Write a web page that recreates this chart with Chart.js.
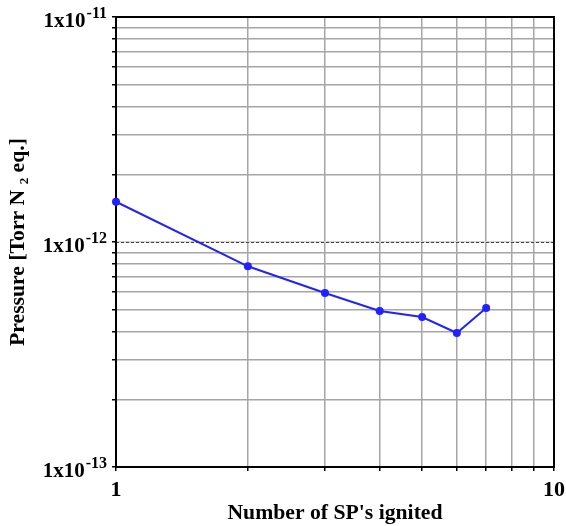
<!DOCTYPE html>
<html><head><meta charset="utf-8">
<script src="https://cdn.jsdelivr.net/npm/chart.js@4"></script>
<style>html,body{margin:0;padding:0;background:#fff}</style>
</head><body>
<canvas id="c" width="566" height="526" style="width:566px;height:526px;display:block"></canvas>
<script>
// ---- data ----
const spIgnited = [1, 2, 3, 4, 5, 6, 7];
const pressure = [1.51e-12, 7.8e-13, 5.93e-13, 4.94e-13, 4.64e-13, 3.94e-13, 5.09e-13];
const xTickValues = [1, 2, 3, 4, 5, 6, 7, 8, 9, 10];
const xTickLabels = ['1', '', '', '', '', '', '', '', '', '10'];
const yTickValues = [1e-13, 2e-13, 3e-13, 4e-13, 5e-13, 6e-13, 7e-13, 8e-13, 9e-13,
                     1e-12, 2e-12, 3e-12, 4e-12, 5e-12, 6e-12, 7e-12, 8e-12, 9e-12, 1e-11];
const yDecadeValues = [1e-13, 1e-12, 1e-11];
const yDecadeBase = ['1x10', '1x10', '1x10'];
const yDecadeExp = ['-13', '-12', '-11'];
const xTitle = "Number of SP's ignited";
const yTitle = 'Pressure [Torr N \u2082 eq.]';

const SERIF = '"Liberation Serif", "Times New Roman", serif';
const LINE_BLUE = '#2222ff';

const decorPlugin = {
  id: 'decor',
  beforeDatasetsDraw(chart) {
    const {ctx, chartArea: a, scales: {y}} = chart;
    ctx.save();
    const py = Math.round(y.getPixelForValue(1e-12)) + 0.5;
    ctx.strokeStyle = '#444';
    ctx.lineWidth = 1;
    ctx.setLineDash([3, 2]);
    ctx.beginPath(); ctx.moveTo(a.left, py); ctx.lineTo(a.right, py); ctx.stroke();
    ctx.setLineDash([]);
    ctx.strokeStyle = '#000';
    ctx.lineWidth = 2;
    ctx.strokeRect(a.left, a.top, a.right - a.left, a.bottom - a.top);
    ctx.restore();
  },
  afterDraw(chart) {
    const {ctx, scales: {y}} = chart;
    ctx.save();
    ctx.fillStyle = '#000';
    ctx.textBaseline = 'middle';
    yDecadeValues.forEach((v, i) => {
      const py = y.getPixelForValue(v);
      const xr = 107;
      ctx.font = 'bold 16px ' + SERIF;
      const ew = ctx.measureText(yDecadeExp[i]).width;
      ctx.textAlign = 'left';
      ctx.fillText(yDecadeExp[i], xr - ew, py - 3);
      ctx.font = 'bold 21px ' + SERIF;
      ctx.textAlign = 'right';
      ctx.fillText(yDecadeBase[i], xr - ew - 1, py + 5);
    });
    ctx.restore();
  }
};

new Chart(document.getElementById('c'), {
  type: 'line',
  data: {
    datasets: [{
      data: spIgnited.map((x, i) => ({x, y: pressure[i]})),
      borderColor: LINE_BLUE,
      backgroundColor: LINE_BLUE,
      borderWidth: 2,
      pointRadius: 3,
      pointHoverRadius: 3,
      tension: 0,
      clip: false
    }]
  },
  options: {
    responsive: false,
    animation: false,
    devicePixelRatio: 1,
    layout: {padding: {top: 17, right: 12, left: 0, bottom: 0}},
    plugins: {legend: {display: false}, tooltip: {enabled: false}},
    scales: {
      x: {
        type: 'logarithmic',
        min: 1, max: 10,
        afterBuildTicks: s => { s.ticks = xTickValues.map(v => ({value: v})); },
        afterFit: s => { s.height = 59; s.paddingRight = 0; s.paddingLeft = 0; },
        border: {display: false},
        grid: {color: '#a6a6a6', lineWidth: 1.5, tickColor: '#000', tickLength: 4, tickWidth: 1.5},
        ticks: {
          autoSkip: false, maxRotation: 0, padding: 6, color: '#000',
          font: {family: SERIF, size: 22, weight: 'bold'},
          callback: (v, i) => xTickLabels[i]
        },
        title: {display: true, text: xTitle, color: '#000', padding: {top: 0, bottom: 0},
                font: {family: SERIF, size: 21.7, weight: 'bold'}}
      },
      y: {
        type: 'logarithmic',
        min: 1e-13, max: 1e-11,
        afterBuildTicks: s => { s.ticks = yTickValues.map(v => ({value: v})); },
        afterFit: s => { s.width = 116; s.paddingTop = 0; s.paddingBottom = 0; },
        border: {display: false},
        grid: {
          color: ctx => (ctx.tick && ctx.tick.value === 1e-12) ? '#d0d0d0' : '#a6a6a6',
          lineWidth: 1.5, tickColor: '#000', tickLength: 4, tickWidth: 1.5
        },
        ticks: {display: false},
        title: {display: true, text: yTitle, color: '#000', padding: {top: 5, bottom: 0},
                font: {family: SERIF, size: 21.7, weight: 'bold'}}
      }
    }
  },
  plugins: [decorPlugin]
});
</script>
</body></html>
